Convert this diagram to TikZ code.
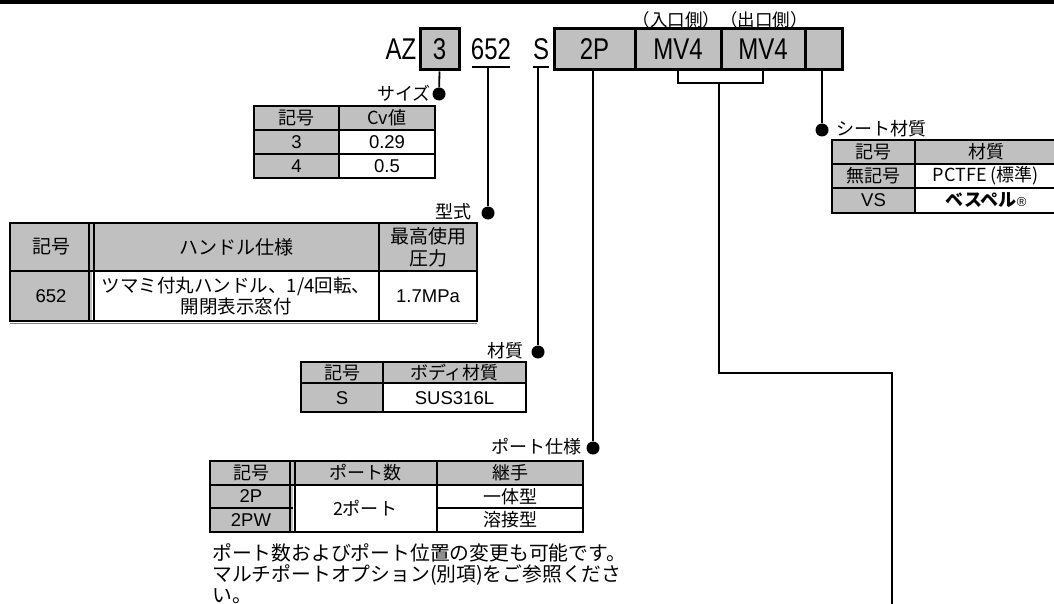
\documentclass[tikz,border=0pt]{standalone}
\usepackage{graphicx}
\usepackage{fontspec}
\setmainfont{Liberation Sans}
\newfontfamily\jp{Noto Sans CJK JP}
\newcommand{\cnar}[1]{\scalebox{0.8}[1]{#1}}
\definecolor{cellgray}{HTML}{C0C0C0}
\tikzset{
  tborder/.style={line width=2.5pt},
  tline/.style={line width=1.5pt},
  conn/.style={line width=1.8pt},
  dotnode/.style={circle,fill=black,inner sep=0pt,minimum size=13pt},
  txt/.style={inner sep=0pt,font=\fontsize{18}{21}\selectfont\jp,align=center},
  lat/.style={inner sep=0pt,font=\fontsize{18.5}{20}\selectfont},
  codetxt/.style={inner sep=0pt,font=\fontsize{30}{32}\selectfont},
  codebox/.style={draw,line width=3pt,fill=cellgray,minimum height=41pt,inner sep=0pt,font=\fontsize{30}{32}\selectfont},
}
\begin{document}
\begin{tikzpicture}[x=1pt,y=-1pt]
\useasboundingbox (0,0) rectangle (1054,604);
\clip (0,0) rectangle (1054,604);
\fill (0,0) rectangle (1054,4);

% ---------- code row ----------
\node[txt,font=\fontsize{17.5}{20}\selectfont\jp] (inout) at (720,20) {（入口側）（出口側）};
\node[codetxt] (az) at (401,49.5) {\cnar{AZ}};
\node[codebox,minimum width=39pt] (b3) at (439.5,49.5) {\cnar{3}};
\node[codetxt] (c652) at (491,49.5) {\cnar{652}};
\node[codetxt] (cS) at (541,49.5) {\cnar{S}};
\coordinate (u652) at (488,67);
\coordinate (uS) at (538,67);
\draw[line width=1.5pt] (472,67) -- (510,67);
\draw[line width=1.5pt] (533,67) -- (549,67);
\node[codebox,minimum width=81pt] (b2p) at (594.5,49.5) {\cnar{2P}};
\node[codebox,minimum width=86pt] (mv1) at (678,49.5) {\cnar{MV4}};
\node[codebox,minimum width=84pt] (mv2) at (763,49.5) {\cnar{MV4}};
\node[codebox,minimum width=37pt] (bseat) at (823.5,49.5) {};

% bracket under MV4 MV4 and long leader
\coordinate (bk) at (719,83);
\coordinate (fend) at (892,604);
\draw[line width=1.5pt] (mv1.south) -- (mv1.south |- bk) -- (mv2.south |- bk) -- (mv2.south);
\draw[line width=1.5pt] (bk) |- (fend |- 0,373) -- (fend);

% ---------- leaders with dots ----------
\node[dotnode] (dsize) at (439,94) {};
\draw[conn] (b3.south) -- (dsize);
\node[txt,anchor=east] (lsize) at (431,93) {サイズ};

\node[dotnode] (dtype) at (488,213) {};
\draw[conn] (u652) -- (dtype);
\node[txt,anchor=east] (ltype) at (472,212) {型式};

\node[dotnode] (dmat) at (538,352) {};
\draw[conn] (uS) -- (dmat);
\node[txt,anchor=east] (lmat) at (524,351) {材質};

\node[dotnode] (dport) at (593,448) {};
\draw[conn] (dport |- b2p.south) -- (dport);
\node[txt,anchor=east] (lport) at (582,447) {ポート仕様};

\node[dotnode] (dseat) at (822,130) {};
\draw[conn] (dseat |- bseat.south) -- (dseat);
\node[txt,anchor=west] (lseat) at (836,129) {シート材質};

% ---------- size table ----------
\fill[cellgray] (254,106) rectangle (435,130);
\fill[cellgray] (254,130) rectangle (339,178);
\draw[tline] (339,106) -- (339,178) (254,130) -- (435,130) (254,154) -- (435,154);
\draw[tborder] (254,106) rectangle (435,178);
\node[txt] (s11) at (296.5,118) {記号};
\node[txt] (s12) at (387,118) {Cv値};
\node[lat] (s21) at (296.5,142) {3};
\node[lat] (s22) at (387,142) {0.29};
\node[lat] (s31) at (296.5,166) {4};
\node[lat] (s32) at (387,166) {0.5};

% ---------- handle table ----------
\fill[cellgray] (10,223) rectangle (477,271);
\fill[cellgray] (10,271) rectangle (92,321);
\draw[line width=1.2pt] (89,223) -- (89,321) (94,223) -- (94,321);
\draw[tline] (379,223) -- (379,321) (10,271) -- (477,271);
\draw[tborder] (10,223) rectangle (477,321);
\draw[line width=1pt,gray] (10,323.5) -- (477,323.5);
\node[txt,font=\fontsize{19}{22}\selectfont\jp] (h11) at (51,247) {記号};
\node[txt,font=\fontsize{19}{22}\selectfont\jp] (h12) at (236,247) {ハンドル仕様};
\node[txt,font=\fontsize{19}{22}\selectfont\jp] (h13) at (428,247) {最高使用\\圧力};
\node[lat] (h21) at (51,296) {652};
\node[txt,font=\fontsize{18.5}{21}\selectfont\jp] (h22) at (236,296) {ツマミ付丸ハンドル、1/4回転、\\開閉表示窓付};
\node[lat] (h23) at (428,296) {1.7MPa};

% ---------- material table ----------
\fill[cellgray] (301,362) rectangle (526,383);
\fill[cellgray] (301,383) rectangle (383,412);
\draw[tline] (383,362) -- (383,412) (301,383) -- (526,383);
\draw[tborder] (301,362) rectangle (526,412);
\node[txt] (m11) at (342,372.5) {記号};
\node[txt] (m12) at (454.5,372.5) {ボディ材質};
\node[lat] (m21) at (342,398) {S};
\node[lat] (m22) at (454.5,398) {SUS316L};

% ---------- port table ----------
\fill[cellgray] (210,461) rectangle (583,485);
\fill[cellgray] (210,485) rectangle (293,532);
\draw[line width=1.2pt] (290,461) -- (290,532) (295,461) -- (295,532);
\draw[tline] (437,461) -- (437,532) (210,485) -- (583,485) (210,508) -- (293,508) (437,508) -- (583,508);
\draw[tborder] (210,461) rectangle (583,532);
\node[txt] (p11) at (251,473) {記号};
\node[txt] (p12) at (365,473) {ポート数};
\node[txt] (p13) at (510,473) {継手};
\node[lat] (p21) at (251,496.5) {2P};
\node[lat] (p31) at (251,520) {2PW};
\node[txt] (p22) at (365,508) {2ポート};
\node[txt] (p23) at (510,496.5) {一体型};
\node[txt] (p33) at (510,520) {溶接型};
\node[txt,anchor=north west,align=left,font=\fontsize{19.8}{21}\selectfont\jp] (note) at (212,543)
  {ポート数およびポート位置の変更も可能です。\\マルチポートオプション(別項)をご参照くださ\\い。};

% ---------- seat table ----------
\fill[cellgray] (832,140) rectangle (1057,164);
\fill[cellgray] (832,164) rectangle (915,213);
\draw[tline] (915,140) -- (915,213) (832,164) -- (1057,164) (832,188) -- (1057,188);
\draw[tborder] (832,140) rectangle (1057,213);
\node[txt] (t11) at (873.5,152) {記号};
\node[txt] (t12) at (986,152) {材質};
\node[txt] (t21) at (873.5,176) {無記号};
\node[txt] (t22) at (986,176) {PCTFE (標準)};
\node[lat] (t31) at (873.5,200.5) {VS};
\node[txt,font=\fontsize{18}{21}\selectfont\jp\bfseries] (t32) at (986,200.5) {ベスペル{\normalfont\fontsize{13}{14}\selectfont ®}};
\end{tikzpicture}
\end{document}
